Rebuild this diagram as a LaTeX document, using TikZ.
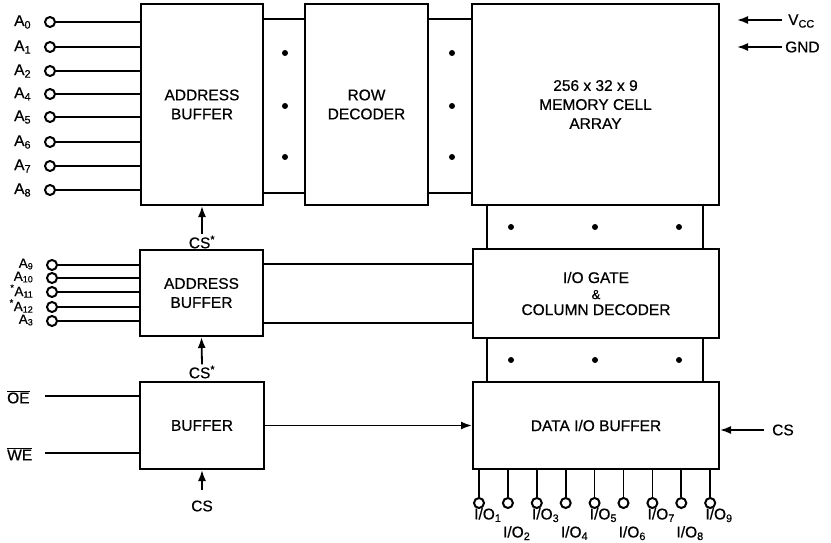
\documentclass[tikz,border=0pt]{standalone}
\usepackage{fontspec}
\setmainfont{Liberation Sans}[FakeBold=0.6]
\usetikzlibrary{arrows.meta,calc}
\newcommand{\pinsub}[1]{\raisebox{-1.5pt}{\fontsize{9}{9}\selectfont #1}}

\begin{document}
\begin{tikzpicture}[
  x=1pt, y=-1pt,
  font=\fontsize{15.5}{19}\selectfont,
  blk/.style={draw, line width=2pt, align=center, inner sep=0pt},
  pin/.style={circle, draw, line width=2pt, fill=white,
              minimum size=10pt, inner sep=0pt},
  wire/.style={line width=1.7pt},
  sig/.style={-{Latex[length=11pt, width=8pt]}, line width=1.8pt},
  lbl/.style={inner sep=1pt},
  tight/.style={inner sep=0pt, font=\fontsize{13.5}{14}\selectfont},
]
\useasboundingbox (0,0) rectangle (831,543);

% ================= blocks ==========================================
\node[blk, minimum width=122pt, minimum height=201pt] (addra) at (202,104.5)
  {ADDRESS\\BUFFER};
\node[blk, minimum width=123pt, minimum height=201pt] (rowdec) at (366.5,104.5)
  {ROW\\DECODER};
\node[blk, minimum width=247pt, minimum height=201pt] (mem) at (595.5,104.5)
  {256 x 32 x 9\\MEMORY CELL\\ARRAY};
\node[blk, minimum width=123pt, minimum height=86pt] (addrb) at (201.5,293)
  {ADDRESS\\BUFFER};
\node[blk, minimum width=246pt, minimum height=89pt] (iogate) at (596,293.5)
  {I/O GATE\\[-3pt]{\fontsize{13}{14}\selectfont\&}\\[-3pt]COLUMN DECODER};
\node[blk, minimum width=124pt, minimum height=87pt] (buf) at (202,425.5)
  {BUFFER};
\node[blk, minimum width=246pt, minimum height=87pt] (databuf) at (596,425.5)
  {DATA I/O BUFFER};

% ================= buses between blocks ============================
\foreach \y in {19,193} {
  \draw[wire] (addra.east |- 0,\y) -- (rowdec.west |- 0,\y);
  \draw[wire] (rowdec.east |- 0,\y) -- (mem.west |- 0,\y);
}
\foreach \y in {264,323}
  \draw[wire] (addrb.east |- 0,\y) -- (iogate.west |- 0,\y);
\foreach \x in {487,703} {
  \draw[wire] (mem.south -| \x,0) -- (iogate.north -| \x,0);
  \draw[wire] (iogate.south -| \x,0) -- (databuf.north -| \x,0);
}
% bus dots
\foreach \x in {285,452}
  \foreach \y in {53,106,157}
    \fill (\x,\y) circle (3);
\foreach \x in {511,595,679}
  \foreach \y in {227,360}
    \fill (\x,\y) circle (3);

% ================= address pins ====================================
\foreach \i/\y in {0/22,1/47,2/71,4/94,5/117,6/142,7/166,8/190} {
  \node[pin] (a\i) at (50,\y) {};
  \node[lbl, anchor=west] at (13,\y) {A\textsubscript{\i}};
  \draw[wire] (a\i.east) -- (a\i.east -| addra.west);
}
\foreach \n/\t/\y in {9/A\pinsub{9}/265,
                      10/A\pinsub{10}/278,
                      11/\textsuperscript{*}A\pinsub{11}/292,
                      12/\textsuperscript{*}A\pinsub{12}/307,
                      3/A\pinsub{3}/321} {
  \node[pin] (a\n) at (52,\y) {};
  \node[tight, anchor=east] at (33,\y-1) {\t};
  \draw[wire] (a\n.east) -- (a\n.east -| addrb.west);
}

% ================= control inputs ==================================
\node[lbl, anchor=west] (oe) at (6,397) {$\overline{\mbox{OE}}$};
\node[lbl, anchor=west] (we) at (6,454) {$\overline{\mbox{WE}}$};
\coordinate (oein) at (45,396);
\coordinate (wein) at (45,453);
\draw[wire] (oein) -- (oein -| buf.west);
\draw[wire] (wein) -- (wein -| buf.west);

\node[lbl] (csa) at (202,242) {CS\textsuperscript{*}};
\draw[sig] (csa.north) -- (addra.south);
\node[lbl] (csb) at (202,372) {CS\textsuperscript{*}};
\draw[sig] (csb.north) -- (addrb.south);
\node[lbl] (csc) at (202,506) {CS};
\coordinate (csctail) at (202,490);
\draw[sig] (csctail) -- (buf.south);

\draw[sig] (buf.east) -- (buf.east -| databuf.west);

% ================= supply and chip select (right) ==================
\node[lbl, anchor=west] (vcc) at (787,21) {V\textsubscript{CC}};
\node[lbl, anchor=west] (gnd) at (784,47) {GND};
\coordinate (vcchead) at (737,20);
\coordinate (gndhead) at (737,47);
\draw[sig] (vcc.west) ++(-5,-1) -- (vcchead);
\draw[sig] (gnd.west) ++(-2,0) -- (gndhead);
\node[lbl, anchor=west] (csr) at (771,430) {CS};
\draw[sig] ([xshift=-7pt]csr.west) -- (csr.west -| databuf.east);

% ================= data pins =======================================
\foreach \i in {1,...,9} {
  \pgfmathsetmacro{\px}{479+(\i-1)*28.9}
  \node[pin] (io\i) at (\px,503) {};
  \draw[wire] (io\i.north) -- (io\i.north |- databuf.south);
  \pgfmathparse{isodd(\i) ? 508 : 526}
  \node[lbl, anchor=north west, inner sep=0pt] at (\px-5,\pgfmathresult)
    {I/O\textsubscript{\i}};
}

\end{tikzpicture}
\end{document}
